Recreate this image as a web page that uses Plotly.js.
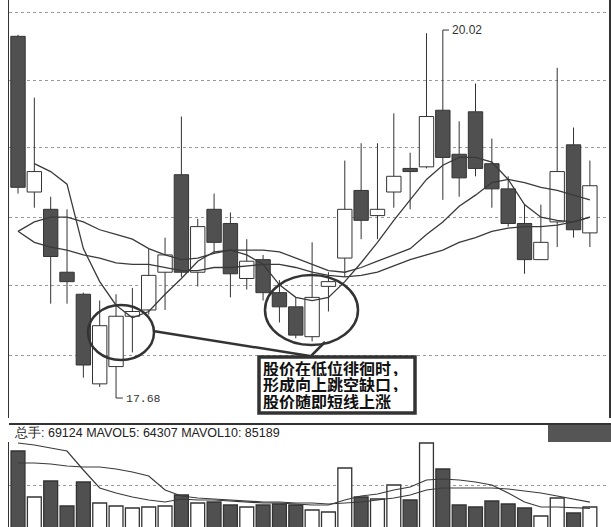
<!DOCTYPE html>
<html>
<head>
<meta charset="utf-8">
<script src="https://cdn.plot.ly/plotly-3.0.1.min.js"></script>
<style>html,body{margin:0;padding:0;background:#fff;}#chart{width:611px;height:527px;}</style>
</head>
<body>
<div id="chart"></div>
<script>
// ---- data ----
const openP  = [19.98,18.99,18.88,18.48,18.34,17.77,17.88,18.20,18.24,18.48,19.10,18.48,18.88,18.79,18.44,18.56,18.35,18.26,18.07,18.39,18.57,19.00,18.84,18.99,19.14,19.15,19.51,19.23,19.50,19.17,19.01,18.79,18.56,18.80,19.29,18.73];
const highP  = [19.99,19.59,18.96,18.88,18.35,18.30,18.34,18.38,18.63,18.70,19.47,18.82,18.98,18.86,18.69,18.59,18.43,18.32,18.67,18.48,19.19,19.30,19.30,19.49,19.24,20.00,20.02,19.44,19.68,19.33,19.09,18.91,18.91,19.78,19.40,19.19];
const lowP   = [18.98,18.89,18.28,18.28,17.81,17.75,17.68,17.97,18.21,18.24,18.45,18.39,18.60,18.32,18.37,18.30,18.16,18.06,18.04,18.23,18.45,18.69,18.69,18.89,18.88,19.14,18.94,18.96,19.09,18.89,18.77,18.47,18.56,18.64,18.70,18.64];
const closeP = [19.02,19.12,18.58,18.42,17.89,18.14,18.20,18.23,18.46,18.59,18.48,18.77,18.67,18.47,18.55,18.35,18.26,18.08,18.32,18.42,18.88,18.81,18.88,19.09,19.12,19.47,19.21,19.08,19.14,19.01,18.79,18.56,18.67,19.12,18.75,19.03];
const ma5  = [null,19.17,19.12,19.04,18.63,18.42,18.27,18.19,18.23,18.34,18.44,18.55,18.61,18.62,18.59,18.53,18.40,18.32,18.30,18.32,18.42,18.54,18.67,18.81,18.94,19.07,19.16,19.21,19.21,19.18,19.07,18.91,18.83,18.81,18.80,18.83];
const ma10 = [18.74,18.80,18.83,18.83,18.80,18.75,18.72,18.69,18.63,18.59,18.56,18.57,18.60,18.62,18.62,18.62,18.61,18.57,18.53,18.49,18.48,18.51,18.55,18.59,18.63,18.72,18.80,18.90,18.97,19.05,19.07,19.05,19.02,19.00,18.97,18.94];
const ma20 = [18.74,18.67,18.64,18.62,18.59,18.57,18.54,18.53,18.53,18.51,18.49,18.49,18.51,18.51,18.52,18.53,18.53,18.51,18.48,18.46,18.45,18.46,18.48,18.52,18.56,18.59,18.62,18.67,18.70,18.74,18.76,18.77,18.77,18.78,18.80,18.83];
const volume = [253300,102000,154600,72400,151300,82300,72400,65800,69100,72400,108600,82300,85500,75700,69100,75700,79000,75700,59200,52600,197400,102000,95400,141500,92100,279700,194100,75700,69100,88800,79000,65800,39500,98700,49400,69124];
const mavol5  = [279700,273100,263200,253300,190800,131600,115200,102000,92100,85500,95400,92100,92100,88800,85500,82300,82300,79000,75700,75700,92100,105300,111900,125000,134900,157900,161200,157900,151300,141500,115200,85500,69100,69100,65800,64307];
const mavol10 = [213900,213900,210600,204000,200700,200700,194100,184200,171100,125000,105300,98700,95400,92100,88800,85500,85500,82300,82300,79000,82300,85500,92100,98700,108600,125000,131600,131600,131600,131600,128300,121700,115200,105300,95400,85189];
const headerText = "总手: 69124 MAVOL5: 64307 MAVOL10: 85189";
const noteLines = ["股价在低位徘徊时，","形成向上跳空缺口，","股价随即短线上涨"];

// ---- build ----
const W = 611, H = 527;
const px = x => x / W, py = y => 1 - y / H;
const idx = openP.map((_, i) => i);
const up = idx.map(i => closeP[i] >= openP[i]);
const DARK = '#505050', EDGE = '#333333', LINE = '#3a3a3a', GRID = '#9a9a9a';

const bodyBase = idx.map(i => Math.min(openP[i], closeP[i]));
const bodyLen  = idx.map(i => Math.max(Math.abs(closeP[i] - openP[i]), 0.004));
const fillCol  = idx.map(i => up[i] ? '#ffffff' : DARK);

const wx = [], wy = [];
idx.forEach(i => {
  const top = Math.max(openP[i], closeP[i]), bot = Math.min(openP[i], closeP[i]);
  if (highP[i] > top) { wx.push(i, i, null); wy.push(highP[i], top, null); }
  if (lowP[i] < bot)  { wx.push(i, i, null); wy.push(bot, lowP[i], null); }
});

const traces = [
  {type:'bar', x: idx, y: bodyLen, base: bodyBase, width: 0.88,
   marker:{color: fillCol, line:{color: EDGE, width: 1}}, xaxis:'x', yaxis:'y', hoverinfo:'skip'},
  {type:'scatter', mode:'lines', x: wx, y: wy, line:{color: EDGE, width: 1}, xaxis:'x', yaxis:'y', hoverinfo:'skip'},
  {type:'scatter', mode:'lines', x: idx, y: ma5,  line:{color: LINE, width: 1.3}, xaxis:'x', yaxis:'y', hoverinfo:'skip'},
  {type:'scatter', mode:'lines', x: idx, y: ma10, line:{color: LINE, width: 1.3}, xaxis:'x', yaxis:'y', hoverinfo:'skip'},
  {type:'scatter', mode:'lines', x: idx, y: ma20, line:{color: LINE, width: 1.3}, xaxis:'x', yaxis:'y', hoverinfo:'skip'},
  {type:'bar', x: idx, y: volume, width: 0.85,
   marker:{color: fillCol, line:{color: EDGE, width: 1.3}}, xaxis:'x', yaxis:'y2', hoverinfo:'skip'},
  {type:'scatter', mode:'lines', x: idx, y: mavol5,  line:{color: LINE, width: 1.2}, xaxis:'x', yaxis:'y2', hoverinfo:'skip'},
  {type:'scatter', mode:'lines', x: idx, y: mavol10, line:{color: LINE, width: 1.2}, xaxis:'x', yaxis:'y2', hoverinfo:'skip'}
];

let hiI = 0, loI = 0;
idx.forEach(i => { if (highP[i] > highP[hiI]) hiI = i; if (lowP[i] < lowP[loI]) loI = i; });

const layout = {
  width: W, height: H, margin:{l:0, r:0, t:0, b:0},
  paper_bgcolor:'#fff', plot_bgcolor:'#fff', showlegend:false,
  xaxis:{domain:[px(9), px(609)], range:[-0.551, 36.17], showgrid:false, zeroline:false,
         showticklabels:false, ticks:'', showline:false, fixedrange:true},
  yaxis:{domain:[py(418), 1], range:[17.553, 20.211], tickvals:[20.134,19.702,19.270,18.831,18.393,17.948],
         showticklabels:false, ticks:'', showgrid:true, gridcolor:GRID, griddash:'dot', gridwidth:1,
         zeroline:false, showline:true, linecolor:'#333', linewidth:1.5, mirror:true},
  yaxis2:{domain:[0, py(442)], range:[3290, 282940], tickvals:[279650,141470],
         showticklabels:false, ticks:'', showgrid:true, gridcolor:GRID, griddash:'dot', gridwidth:1,
         zeroline:false, showline:true, linecolor:'#333', linewidth:1.5},
  bargap: 0,
  shapes:[
    {type:'line', xref:'paper', yref:'paper', x0:px(9), x1:1, y0:py(424), y1:py(424), line:{color:'#333', width:2}},
    {type:'rect', xref:'paper', yref:'paper', x0:px(548), x1:1, y0:py(425), y1:py(442), fillcolor:'#555', line:{width:0}},
    {type:'line', xref:'x', yref:'y', x0:hiI, x1:hiI+0.38, y0:highP[hiI], y1:highP[hiI], line:{color:EDGE, width:1}},
    {type:'line', xref:'x', yref:'y', x0:loI, x1:loI+0.42, y0:lowP[loI], y1:lowP[loI], line:{color:EDGE, width:1}},
    {type:'circle', xref:'paper', yref:'paper', x0:px(88), x1:px(154), y0:py(305), y1:py(360), line:{color:'#333', width:2.5}},
    {type:'circle', xref:'paper', yref:'paper', x0:px(265), x1:px(358), y0:py(275), y1:py(345), line:{color:'#333', width:2.5}},
    {type:'line', xref:'paper', yref:'paper', x0:px(153), y0:py(331), x1:px(310), y1:py(356), line:{color:'#333', width:2.5}},
    {type:'line', xref:'paper', yref:'paper', x0:px(325), y0:py(342), x1:px(311), y1:py(356), line:{color:'#333', width:2.5}},
    {type:'rect', xref:'paper', yref:'paper', x0:px(259), x1:px(415), y0:py(357), y1:py(413), fillcolor:'#fff', line:{color:'#333', width:3.5}}
  ],
  annotations:[
    {xref:'x', yref:'y', x:hiI+0.42, y:highP[hiI], text: highP[hiI].toFixed(2), showarrow:false, xanchor:'left', yanchor:'middle',
     font:{family:'Liberation Sans, Arial', size:12, color:'#333'}},
    {xref:'x', yref:'y', x:loI+0.46, y:lowP[loI], text: lowP[loI].toFixed(2), showarrow:false, xanchor:'left', yanchor:'middle',
     font:{family:'Liberation Mono, DejaVu Sans Mono', size:11.5, color:'#333'}},
    {xref:'paper', yref:'paper', x:px(12), y:py(433), text: headerText, showarrow:false, xanchor:'left', yanchor:'middle',
     font:{family:'Liberation Sans, Arial', size:12.5, color:'#222'}}
  ].concat(noteLines.map((t, k) => ({
     xref:'paper', yref:'paper', x:px(262), y:py(368.5 + 16.3*k), text:t, showarrow:false,
     xanchor:'left', yanchor:'middle', height:15, valign:'middle', borderpad:0,
     font:{family:'Liberation Serif, Noto Sans CJK SC', size:16, color:'#111', weight:'bold'}
  })))
};

Plotly.newPlot('chart', traces, layout, {staticPlot:true, displayModeBar:false});
</script>
</body>
</html>
